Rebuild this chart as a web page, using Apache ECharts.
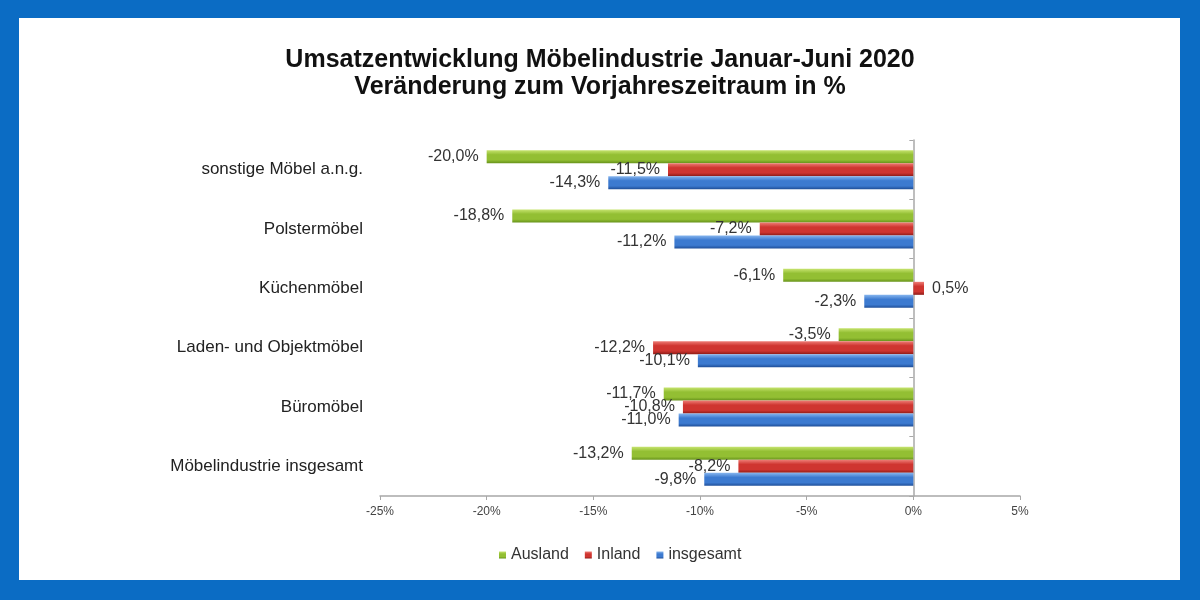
<!DOCTYPE html>
<html>
<head>
<meta charset="utf-8">
<script src="https://cdn.jsdelivr.net/npm/echarts@6/dist/echarts.min.js"></script>
<style>
    html, body { margin: 0; padding: 0; background: #0b6cc4; }
    #chart { width: 1200px; height: 600px; }
</style>
</head>
<body>
<div id="chart"></div>
<script>
const categories = ['sonstige Möbel a.n.g.', 'Polstermöbel', 'Küchenmöbel', 'Laden- und Objektmöbel', 'Büromöbel', 'Möbelindustrie insgesamt'];
const ausland = [-20.0, -18.8, -6.1, -3.5, -11.7, -13.2];
const inland = [-11.5, -7.2, 0.5, -12.2, -10.8, -8.2];
const insgesamt = [-14.3, -11.2, -2.3, -10.1, -11.0, -9.8];
const seriesNames = ['Ausland', 'Inland', 'insgesamt'];

const chart = echarts.init(document.getElementById('chart'));

function grad(top, mid, bottom) {
    return new echarts.graphic.LinearGradient(0, 0, 0, 1, [
        {offset: 0, color: top},
        {offset: 0.35, color: mid},
        {offset: 0.75, color: mid},
        {offset: 1, color: bottom}
    ]);
}

const colors = [
    grad('#c6e36e', '#93bf33', '#66921a'),
    grad('#ee7d76', '#cf3530', '#8e1b17'),
    grad('#86b5ee', '#3c7ad0', '#1f4e98')
];

function makeSeries(name, values, color) {
    return {
        name: name,
        type: 'bar',
        barWidth: 13,
        barGap: '0%',
        itemStyle: {color: color},
        label: {
            show: true,
            distance: 8,
            fontSize: 16,
            color: '#333',
            fontFamily: 'Liberation Sans, Arial, sans-serif',
            formatter: p => p.value.toFixed(1).replace('.', ',') + '%'
        },
        data: values.map(v => ({
            value: v,
            label: {position: v < 0 ? 'left' : 'right'}
        }))
    };
}

const options = {
    backgroundColor: '#0b6cc4',
    textStyle: {fontFamily: 'Liberation Sans, Arial, sans-serif'},
    graphic: [{
        type: 'rect',
        z: -10,
        silent: true,
        shape: {x: 19, y: 18, width: 1161, height: 562},
        style: {fill: '#ffffff'}
    }],
    title: {
        text: 'Umsatzentwicklung Möbelindustrie Januar-Juni 2020\nVeränderung zum Vorjahreszeitraum in %',
        left: 'center',
        top: 42,
        textStyle: {
            fontSize: 25,
            fontWeight: 'bold',
            color: '#111',
            lineHeight: 27
        }
    },
    legend: {
        data: seriesNames,
        left: 494,
        top: 542,
        itemWidth: 7,
        itemHeight: 7,
        itemGap: 16,
        icon: 'rect',
        textStyle: {fontSize: 16, color: '#333'}
    },
    grid: {
        left: 380,
        right: 180,
        top: 140,
        bottom: 104,
        outerBoundsMode: 'none'
    },
    xAxis: {
        type: 'value',
        min: -25,
        max: 5,
        interval: 5,
        splitLine: {show: false},
        axisLine: {show: true, lineStyle: {color: '#a8a8a8', width: 1.5}},
        axisTick: {show: true, length: 4, lineStyle: {color: '#a8a8a8'}},
        axisLabel: {
            formatter: '{value}%',
            fontSize: 12,
            color: '#444',
            margin: 10
        }
    },
    yAxis: {
        type: 'category',
        inverse: true,
        data: categories,
        axisLine: {show: true, onZero: true, lineStyle: {color: '#a8a8a8', width: 1.5}},
        axisTick: {show: true, length: 4, lineStyle: {color: '#a8a8a8'}},
        axisLabel: {
            margin: 17,
            fontSize: 17,
            color: '#222'
        }
    },
    series: [
        makeSeries(seriesNames[0], ausland, colors[0]),
        makeSeries(seriesNames[1], inland, colors[1]),
        makeSeries(seriesNames[2], insgesamt, colors[2])
    ]
};

chart.setOption(options);
</script>
</body>
</html>
